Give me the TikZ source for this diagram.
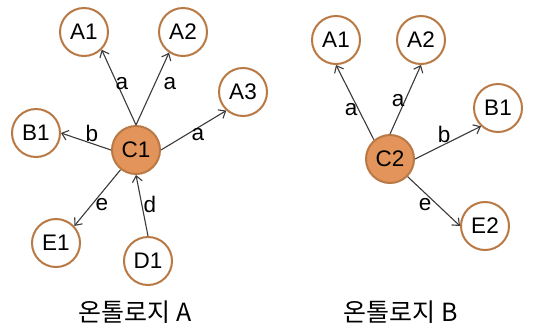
\documentclass[tikz,border=0pt]{standalone}
\usepackage{fontspec}
\setmainfont{Liberation Sans}
\newfontfamily\kofont{Noto Sans CJK KR}
\usetikzlibrary{arrows.meta}
\definecolor{ringc}{HTML}{B97944}
\definecolor{hubfill}{HTML}{E3945B}
\definecolor{edgec}{HTML}{3A3A3A}
\begin{document}
\begin{tikzpicture}[x=1pt,y=-1pt,
  ent/.style={circle,draw=ringc,line width=2pt,fill=white,minimum size=48pt,inner sep=0pt,font=\fontsize{22.5}{22.5}\selectfont},
  hub/.style={ent,fill=hubfill},
  rel/.style={draw=edgec,line width=1.1pt,-{Straight Barb[length=6pt,width=10pt]}},
  lbl/.style={inner sep=0pt,font=\fontsize{22.5}{22.5}\selectfont},
  captext/.style={inner sep=0pt,font=\kofont\fontsize{25}{25}\selectfont}]
\useasboundingbox (0,0) rectangle (537,325);
% Ontology A
\node[ent] (A1) at (84,32) {A1};
\node[ent] (A2) at (183,32) {A2};
\node[ent] (A3) at (243,92) {A3};
\node[ent] (B1) at (36,133) {B1};
\node[hub] (C1) at (136,150) {C1};
\node[ent] (E1) at (56,243) {E1};
\node[ent] (D1) at (148,261) {D1};
\draw[rel] (C1.north) -- (A1.-45);
\draw[rel] (C1.north) -- (A2.-124);
\draw[rel] (C1.east) -- (A3.-132);
\draw[rel] (C1.west) -- (B1.east);
\draw[rel] (C1.-128) -- (E1.43);
\draw[rel] (D1.north) -- (C1.south);
\node[lbl] (la1) at (122,84) {a};
\node[lbl] (la2) at (170,84) {a};
\node[lbl] (la3) at (198,135) {a};
\node[lbl] (lb1) at (92,133) {b};
\node[lbl] (le1) at (102,205) {e};
\node[lbl] (ld1) at (150,204) {d};
\node[captext] (capA) at (135,312) {온톨로지 A};
% Ontology B
\node[ent] (RA1) at (336,40) {A1};
\node[ent] (RA2) at (421,40) {A2};
\node[ent] (RB1) at (498,108) {B1};
\node[hub] (C2) at (390,159) {C2};
\node[ent] (E2) at (485,226) {E2};
\draw[rel] (C2.130) -- (RA1.south);
\draw[rel] (C2.north) -- (RA2.south);
\draw[rel] (C2.east) -- (RB1.-133);
\draw[rel] (C2.south east) -- (E2.west);
\node[lbl] (ra1) at (351,110) {a};
\node[lbl] (ra2) at (398,101) {a};
\node[lbl] (rb1) at (444,134) {b};
\node[lbl] (re2) at (425,205) {e};
\node[captext] (capB) at (401,312) {온톨로지 B};
\end{tikzpicture}
\end{document}
